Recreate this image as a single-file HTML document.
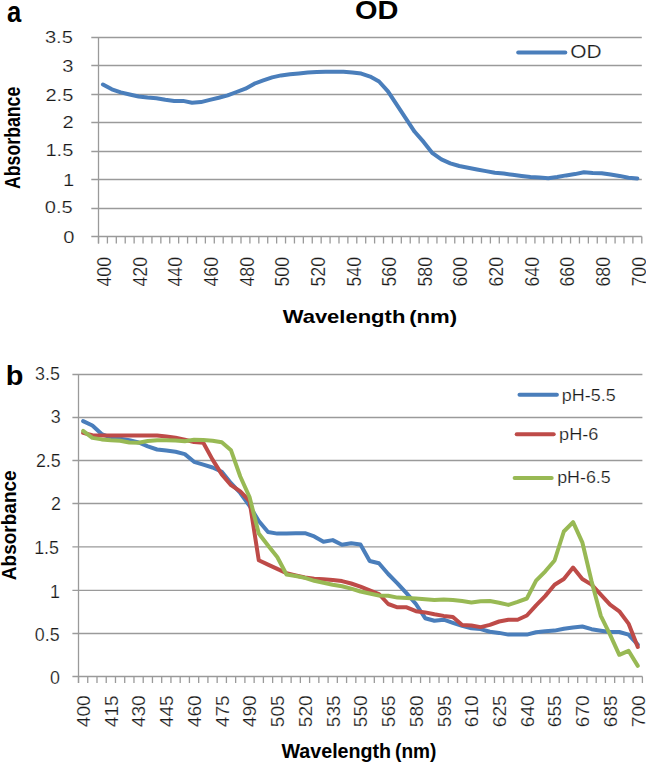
<!DOCTYPE html>
<html><head><meta charset="utf-8"><style>
html,body{margin:0;padding:0;background:#fff;}
svg{display:block;font-family:"Liberation Sans", sans-serif;}
.r{stroke:#fff;stroke-width:0.2px;}
</style></head><body>
<svg width="646" height="764" viewBox="0 0 646 764">
<rect width="646" height="764" fill="#fff"/>
<line x1="91.3" y1="37.5" x2="641.8" y2="37.5" stroke="#9a9a9a" stroke-width="1.3"/>
<line x1="91.3" y1="65.5" x2="641.8" y2="65.5" stroke="#9a9a9a" stroke-width="1.3"/>
<line x1="91.3" y1="94.5" x2="641.8" y2="94.5" stroke="#9a9a9a" stroke-width="1.3"/>
<line x1="91.3" y1="122.5" x2="641.8" y2="122.5" stroke="#9a9a9a" stroke-width="1.3"/>
<line x1="91.3" y1="151.5" x2="641.8" y2="151.5" stroke="#9a9a9a" stroke-width="1.3"/>
<line x1="91.3" y1="179.5" x2="641.8" y2="179.5" stroke="#9a9a9a" stroke-width="1.3"/>
<line x1="91.3" y1="208.5" x2="641.8" y2="208.5" stroke="#9a9a9a" stroke-width="1.3"/>
<line x1="91.3" y1="236.5" x2="641.8" y2="236.5" stroke="#9a9a9a" stroke-width="1.3"/>
<line x1="98.5" y1="37.5" x2="98.5" y2="243.5" stroke="#9a9a9a" stroke-width="1.3"/>
<line x1="98.5" y1="236.5" x2="98.5" y2="243.5" stroke="#9a9a9a" stroke-width="1.3"/>
<line x1="107.41" y1="236.5" x2="107.41" y2="243.5" stroke="#9a9a9a" stroke-width="1.3"/>
<line x1="116.31" y1="236.5" x2="116.31" y2="243.5" stroke="#9a9a9a" stroke-width="1.3"/>
<line x1="125.22" y1="236.5" x2="125.22" y2="243.5" stroke="#9a9a9a" stroke-width="1.3"/>
<line x1="134.13" y1="236.5" x2="134.13" y2="243.5" stroke="#9a9a9a" stroke-width="1.3"/>
<line x1="143.03" y1="236.5" x2="143.03" y2="243.5" stroke="#9a9a9a" stroke-width="1.3"/>
<line x1="151.94" y1="236.5" x2="151.94" y2="243.5" stroke="#9a9a9a" stroke-width="1.3"/>
<line x1="160.85" y1="236.5" x2="160.85" y2="243.5" stroke="#9a9a9a" stroke-width="1.3"/>
<line x1="169.75" y1="236.5" x2="169.75" y2="243.5" stroke="#9a9a9a" stroke-width="1.3"/>
<line x1="178.66" y1="236.5" x2="178.66" y2="243.5" stroke="#9a9a9a" stroke-width="1.3"/>
<line x1="187.57" y1="236.5" x2="187.57" y2="243.5" stroke="#9a9a9a" stroke-width="1.3"/>
<line x1="196.47" y1="236.5" x2="196.47" y2="243.5" stroke="#9a9a9a" stroke-width="1.3"/>
<line x1="205.38" y1="236.5" x2="205.38" y2="243.5" stroke="#9a9a9a" stroke-width="1.3"/>
<line x1="214.29" y1="236.5" x2="214.29" y2="243.5" stroke="#9a9a9a" stroke-width="1.3"/>
<line x1="223.19" y1="236.5" x2="223.19" y2="243.5" stroke="#9a9a9a" stroke-width="1.3"/>
<line x1="232.1" y1="236.5" x2="232.1" y2="243.5" stroke="#9a9a9a" stroke-width="1.3"/>
<line x1="241" y1="236.5" x2="241" y2="243.5" stroke="#9a9a9a" stroke-width="1.3"/>
<line x1="249.91" y1="236.5" x2="249.91" y2="243.5" stroke="#9a9a9a" stroke-width="1.3"/>
<line x1="258.82" y1="236.5" x2="258.82" y2="243.5" stroke="#9a9a9a" stroke-width="1.3"/>
<line x1="267.72" y1="236.5" x2="267.72" y2="243.5" stroke="#9a9a9a" stroke-width="1.3"/>
<line x1="276.63" y1="236.5" x2="276.63" y2="243.5" stroke="#9a9a9a" stroke-width="1.3"/>
<line x1="285.54" y1="236.5" x2="285.54" y2="243.5" stroke="#9a9a9a" stroke-width="1.3"/>
<line x1="294.44" y1="236.5" x2="294.44" y2="243.5" stroke="#9a9a9a" stroke-width="1.3"/>
<line x1="303.35" y1="236.5" x2="303.35" y2="243.5" stroke="#9a9a9a" stroke-width="1.3"/>
<line x1="312.26" y1="236.5" x2="312.26" y2="243.5" stroke="#9a9a9a" stroke-width="1.3"/>
<line x1="321.16" y1="236.5" x2="321.16" y2="243.5" stroke="#9a9a9a" stroke-width="1.3"/>
<line x1="330.07" y1="236.5" x2="330.07" y2="243.5" stroke="#9a9a9a" stroke-width="1.3"/>
<line x1="338.98" y1="236.5" x2="338.98" y2="243.5" stroke="#9a9a9a" stroke-width="1.3"/>
<line x1="347.88" y1="236.5" x2="347.88" y2="243.5" stroke="#9a9a9a" stroke-width="1.3"/>
<line x1="356.79" y1="236.5" x2="356.79" y2="243.5" stroke="#9a9a9a" stroke-width="1.3"/>
<line x1="365.7" y1="236.5" x2="365.7" y2="243.5" stroke="#9a9a9a" stroke-width="1.3"/>
<line x1="374.6" y1="236.5" x2="374.6" y2="243.5" stroke="#9a9a9a" stroke-width="1.3"/>
<line x1="383.51" y1="236.5" x2="383.51" y2="243.5" stroke="#9a9a9a" stroke-width="1.3"/>
<line x1="392.42" y1="236.5" x2="392.42" y2="243.5" stroke="#9a9a9a" stroke-width="1.3"/>
<line x1="401.32" y1="236.5" x2="401.32" y2="243.5" stroke="#9a9a9a" stroke-width="1.3"/>
<line x1="410.23" y1="236.5" x2="410.23" y2="243.5" stroke="#9a9a9a" stroke-width="1.3"/>
<line x1="419.14" y1="236.5" x2="419.14" y2="243.5" stroke="#9a9a9a" stroke-width="1.3"/>
<line x1="428.04" y1="236.5" x2="428.04" y2="243.5" stroke="#9a9a9a" stroke-width="1.3"/>
<line x1="436.95" y1="236.5" x2="436.95" y2="243.5" stroke="#9a9a9a" stroke-width="1.3"/>
<line x1="445.86" y1="236.5" x2="445.86" y2="243.5" stroke="#9a9a9a" stroke-width="1.3"/>
<line x1="454.76" y1="236.5" x2="454.76" y2="243.5" stroke="#9a9a9a" stroke-width="1.3"/>
<line x1="463.67" y1="236.5" x2="463.67" y2="243.5" stroke="#9a9a9a" stroke-width="1.3"/>
<line x1="472.58" y1="236.5" x2="472.58" y2="243.5" stroke="#9a9a9a" stroke-width="1.3"/>
<line x1="481.48" y1="236.5" x2="481.48" y2="243.5" stroke="#9a9a9a" stroke-width="1.3"/>
<line x1="490.39" y1="236.5" x2="490.39" y2="243.5" stroke="#9a9a9a" stroke-width="1.3"/>
<line x1="499.3" y1="236.5" x2="499.3" y2="243.5" stroke="#9a9a9a" stroke-width="1.3"/>
<line x1="508.2" y1="236.5" x2="508.2" y2="243.5" stroke="#9a9a9a" stroke-width="1.3"/>
<line x1="517.11" y1="236.5" x2="517.11" y2="243.5" stroke="#9a9a9a" stroke-width="1.3"/>
<line x1="526.01" y1="236.5" x2="526.01" y2="243.5" stroke="#9a9a9a" stroke-width="1.3"/>
<line x1="534.92" y1="236.5" x2="534.92" y2="243.5" stroke="#9a9a9a" stroke-width="1.3"/>
<line x1="543.83" y1="236.5" x2="543.83" y2="243.5" stroke="#9a9a9a" stroke-width="1.3"/>
<line x1="552.73" y1="236.5" x2="552.73" y2="243.5" stroke="#9a9a9a" stroke-width="1.3"/>
<line x1="561.64" y1="236.5" x2="561.64" y2="243.5" stroke="#9a9a9a" stroke-width="1.3"/>
<line x1="570.55" y1="236.5" x2="570.55" y2="243.5" stroke="#9a9a9a" stroke-width="1.3"/>
<line x1="579.45" y1="236.5" x2="579.45" y2="243.5" stroke="#9a9a9a" stroke-width="1.3"/>
<line x1="588.36" y1="236.5" x2="588.36" y2="243.5" stroke="#9a9a9a" stroke-width="1.3"/>
<line x1="597.27" y1="236.5" x2="597.27" y2="243.5" stroke="#9a9a9a" stroke-width="1.3"/>
<line x1="606.17" y1="236.5" x2="606.17" y2="243.5" stroke="#9a9a9a" stroke-width="1.3"/>
<line x1="615.08" y1="236.5" x2="615.08" y2="243.5" stroke="#9a9a9a" stroke-width="1.3"/>
<line x1="623.99" y1="236.5" x2="623.99" y2="243.5" stroke="#9a9a9a" stroke-width="1.3"/>
<line x1="632.89" y1="236.5" x2="632.89" y2="243.5" stroke="#9a9a9a" stroke-width="1.3"/>
<line x1="641.8" y1="236.5" x2="641.8" y2="243.5" stroke="#9a9a9a" stroke-width="1.3"/>
<polyline points="102.95,84.5 111.86,89.3 120.77,92.4 129.67,94.5 138.58,96.5 147.49,97.6 156.39,98.2 165.3,99.8 174.21,100.9 183.11,100.9 192.02,102.8 200.93,102.1 209.83,99.85 218.74,97.8 227.65,95.4 236.55,92 245.46,88.7 254.36,83.7 263.27,80.4 272.18,77.4 281.08,75.4 289.99,74.3 298.9,73.4 307.8,72.5 316.71,72.1 325.62,71.8 334.52,71.8 343.43,71.8 352.34,72.5 361.24,73.6 370.15,76.6 379.06,81.5 387.96,91.4 396.87,104.9 405.78,118.4 414.68,131.8 423.59,141.9 432.5,153.2 441.4,159.4 450.31,163.3 459.22,166 468.12,167.7 477.03,169.5 485.94,171.1 494.84,172.7 503.75,173.6 512.65,174.75 521.56,175.9 530.47,177 539.37,177.4 548.28,178.3 557.19,177 566.09,175.4 575,174.1 583.91,172.3 592.81,173 601.72,173.2 610.63,174.5 619.53,175.9 628.44,177.7 637.35,178.6" fill="none" stroke="#4a7ebb" stroke-width="4.0" stroke-linejoin="round" stroke-linecap="round"/>
<line x1="518.2" y1="52.4" x2="565.3" y2="52.4" stroke="#4a7ebb" stroke-width="4.0" stroke-linecap="round"/>
<text transform="translate(570.16,58.1) scale(1.1642,1)" font-size="17.97" font-weight="normal" fill="#1a1a1a" class="r">OD</text>
<text transform="translate(354.94,18.6) scale(1.1478,1)" font-size="25.22" font-weight="bold" fill="#000">OD</text>
<text transform="translate(6.93,22) scale(0.8752,1)" font-size="29.26" font-weight="bold" fill="#000">a</text>
<text transform="translate(44.89,42.88) scale(1.1825,1)" font-size="17.04" fill="#1a1a1a" class="r">3.5</text>
<text transform="translate(62.32,71.98) scale(1.1825,1)" font-size="17.04" fill="#1a1a1a" class="r">3</text>
<text transform="translate(45.39,101.38) scale(1.1825,1)" font-size="17.04" fill="#1a1a1a" class="r">2.5</text>
<text transform="translate(62.42,128.48) scale(1.1825,1)" font-size="17.04" fill="#1a1a1a" class="r">2</text>
<text transform="translate(45.39,156.08) scale(1.1825,1)" font-size="17.04" fill="#1a1a1a" class="r">1.5</text>
<text transform="translate(63.02,185.58) scale(1.1825,1)" font-size="17.04" fill="#1a1a1a" class="r">1</text>
<text transform="translate(44.69,213.08) scale(1.1825,1)" font-size="17.04" fill="#1a1a1a" class="r">0.5</text>
<text transform="translate(63.22,242.68) scale(1.1825,1)" font-size="17.04" fill="#1a1a1a" class="r">0</text>
<text transform="translate(111.2,257.03) rotate(-90) scale(0.8906,1)" font-size="19.86" text-anchor="end" fill="#1a1a1a" class="r">400</text>
<text transform="translate(146.83,257.03) rotate(-90) scale(0.8906,1)" font-size="19.86" text-anchor="end" fill="#1a1a1a" class="r">420</text>
<text transform="translate(182.45,257.03) rotate(-90) scale(0.8906,1)" font-size="19.86" text-anchor="end" fill="#1a1a1a" class="r">440</text>
<text transform="translate(218.08,257.03) rotate(-90) scale(0.8906,1)" font-size="19.86" text-anchor="end" fill="#1a1a1a" class="r">460</text>
<text transform="translate(253.71,257.03) rotate(-90) scale(0.8906,1)" font-size="19.86" text-anchor="end" fill="#1a1a1a" class="r">480</text>
<text transform="translate(289.33,257.03) rotate(-90) scale(0.8906,1)" font-size="19.86" text-anchor="end" fill="#1a1a1a" class="r">500</text>
<text transform="translate(324.96,257.03) rotate(-90) scale(0.8906,1)" font-size="19.86" text-anchor="end" fill="#1a1a1a" class="r">520</text>
<text transform="translate(360.59,257.03) rotate(-90) scale(0.8906,1)" font-size="19.86" text-anchor="end" fill="#1a1a1a" class="r">540</text>
<text transform="translate(396.21,257.03) rotate(-90) scale(0.8906,1)" font-size="19.86" text-anchor="end" fill="#1a1a1a" class="r">560</text>
<text transform="translate(431.84,257.03) rotate(-90) scale(0.8906,1)" font-size="19.86" text-anchor="end" fill="#1a1a1a" class="r">580</text>
<text transform="translate(467.46,257.03) rotate(-90) scale(0.8906,1)" font-size="19.86" text-anchor="end" fill="#1a1a1a" class="r">600</text>
<text transform="translate(503.09,257.03) rotate(-90) scale(0.8906,1)" font-size="19.86" text-anchor="end" fill="#1a1a1a" class="r">620</text>
<text transform="translate(538.72,257.03) rotate(-90) scale(0.8906,1)" font-size="19.86" text-anchor="end" fill="#1a1a1a" class="r">640</text>
<text transform="translate(574.34,257.03) rotate(-90) scale(0.8906,1)" font-size="19.86" text-anchor="end" fill="#1a1a1a" class="r">660</text>
<text transform="translate(609.97,257.03) rotate(-90) scale(0.8906,1)" font-size="19.86" text-anchor="end" fill="#1a1a1a" class="r">680</text>
<text transform="translate(645.59,257.03) rotate(-90) scale(0.8906,1)" font-size="19.86" text-anchor="end" fill="#1a1a1a" class="r">700</text>
<text transform="translate(282.7,322.9) scale(1.1774,1)" font-size="18.7" font-weight="bold" fill="#000">Wavelength</text>
<text transform="translate(409.19,322.9) scale(1.1860,1)" font-size="18.7" font-weight="bold" fill="#000">(nm)</text>
<text transform="translate(20.4,189.04) rotate(-90) scale(0.7735,1)" font-size="22.9" font-weight="bold" fill="#000">Absorbance</text>
<line x1="72.4" y1="374.5" x2="642.4" y2="374.5" stroke="#9a9a9a" stroke-width="1.3"/>
<line x1="72.4" y1="417.5" x2="642.4" y2="417.5" stroke="#9a9a9a" stroke-width="1.3"/>
<line x1="72.4" y1="460.5" x2="642.4" y2="460.5" stroke="#9a9a9a" stroke-width="1.3"/>
<line x1="72.4" y1="503.5" x2="642.4" y2="503.5" stroke="#9a9a9a" stroke-width="1.3"/>
<line x1="72.4" y1="546.8" x2="642.4" y2="546.8" stroke="#9a9a9a" stroke-width="1.3"/>
<line x1="72.4" y1="590.3" x2="642.4" y2="590.3" stroke="#9a9a9a" stroke-width="1.3"/>
<line x1="72.4" y1="633.5" x2="642.4" y2="633.5" stroke="#9a9a9a" stroke-width="1.3"/>
<line x1="72.4" y1="676.5" x2="642.4" y2="676.5" stroke="#9a9a9a" stroke-width="1.3"/>
<line x1="78.5" y1="374.5" x2="78.5" y2="683" stroke="#9a9a9a" stroke-width="1.3"/>
<line x1="78.5" y1="676.5" x2="78.5" y2="683" stroke="#9a9a9a" stroke-width="1.3"/>
<line x1="87.74" y1="676.5" x2="87.74" y2="683" stroke="#9a9a9a" stroke-width="1.3"/>
<line x1="96.99" y1="676.5" x2="96.99" y2="683" stroke="#9a9a9a" stroke-width="1.3"/>
<line x1="106.23" y1="676.5" x2="106.23" y2="683" stroke="#9a9a9a" stroke-width="1.3"/>
<line x1="115.48" y1="676.5" x2="115.48" y2="683" stroke="#9a9a9a" stroke-width="1.3"/>
<line x1="124.72" y1="676.5" x2="124.72" y2="683" stroke="#9a9a9a" stroke-width="1.3"/>
<line x1="133.97" y1="676.5" x2="133.97" y2="683" stroke="#9a9a9a" stroke-width="1.3"/>
<line x1="143.21" y1="676.5" x2="143.21" y2="683" stroke="#9a9a9a" stroke-width="1.3"/>
<line x1="152.45" y1="676.5" x2="152.45" y2="683" stroke="#9a9a9a" stroke-width="1.3"/>
<line x1="161.7" y1="676.5" x2="161.7" y2="683" stroke="#9a9a9a" stroke-width="1.3"/>
<line x1="170.94" y1="676.5" x2="170.94" y2="683" stroke="#9a9a9a" stroke-width="1.3"/>
<line x1="180.19" y1="676.5" x2="180.19" y2="683" stroke="#9a9a9a" stroke-width="1.3"/>
<line x1="189.43" y1="676.5" x2="189.43" y2="683" stroke="#9a9a9a" stroke-width="1.3"/>
<line x1="198.68" y1="676.5" x2="198.68" y2="683" stroke="#9a9a9a" stroke-width="1.3"/>
<line x1="207.92" y1="676.5" x2="207.92" y2="683" stroke="#9a9a9a" stroke-width="1.3"/>
<line x1="217.16" y1="676.5" x2="217.16" y2="683" stroke="#9a9a9a" stroke-width="1.3"/>
<line x1="226.41" y1="676.5" x2="226.41" y2="683" stroke="#9a9a9a" stroke-width="1.3"/>
<line x1="235.65" y1="676.5" x2="235.65" y2="683" stroke="#9a9a9a" stroke-width="1.3"/>
<line x1="244.9" y1="676.5" x2="244.9" y2="683" stroke="#9a9a9a" stroke-width="1.3"/>
<line x1="254.14" y1="676.5" x2="254.14" y2="683" stroke="#9a9a9a" stroke-width="1.3"/>
<line x1="263.39" y1="676.5" x2="263.39" y2="683" stroke="#9a9a9a" stroke-width="1.3"/>
<line x1="272.63" y1="676.5" x2="272.63" y2="683" stroke="#9a9a9a" stroke-width="1.3"/>
<line x1="281.87" y1="676.5" x2="281.87" y2="683" stroke="#9a9a9a" stroke-width="1.3"/>
<line x1="291.12" y1="676.5" x2="291.12" y2="683" stroke="#9a9a9a" stroke-width="1.3"/>
<line x1="300.36" y1="676.5" x2="300.36" y2="683" stroke="#9a9a9a" stroke-width="1.3"/>
<line x1="309.61" y1="676.5" x2="309.61" y2="683" stroke="#9a9a9a" stroke-width="1.3"/>
<line x1="318.85" y1="676.5" x2="318.85" y2="683" stroke="#9a9a9a" stroke-width="1.3"/>
<line x1="328.1" y1="676.5" x2="328.1" y2="683" stroke="#9a9a9a" stroke-width="1.3"/>
<line x1="337.34" y1="676.5" x2="337.34" y2="683" stroke="#9a9a9a" stroke-width="1.3"/>
<line x1="346.58" y1="676.5" x2="346.58" y2="683" stroke="#9a9a9a" stroke-width="1.3"/>
<line x1="355.83" y1="676.5" x2="355.83" y2="683" stroke="#9a9a9a" stroke-width="1.3"/>
<line x1="365.07" y1="676.5" x2="365.07" y2="683" stroke="#9a9a9a" stroke-width="1.3"/>
<line x1="374.32" y1="676.5" x2="374.32" y2="683" stroke="#9a9a9a" stroke-width="1.3"/>
<line x1="383.56" y1="676.5" x2="383.56" y2="683" stroke="#9a9a9a" stroke-width="1.3"/>
<line x1="392.8" y1="676.5" x2="392.8" y2="683" stroke="#9a9a9a" stroke-width="1.3"/>
<line x1="402.05" y1="676.5" x2="402.05" y2="683" stroke="#9a9a9a" stroke-width="1.3"/>
<line x1="411.29" y1="676.5" x2="411.29" y2="683" stroke="#9a9a9a" stroke-width="1.3"/>
<line x1="420.54" y1="676.5" x2="420.54" y2="683" stroke="#9a9a9a" stroke-width="1.3"/>
<line x1="429.78" y1="676.5" x2="429.78" y2="683" stroke="#9a9a9a" stroke-width="1.3"/>
<line x1="439.03" y1="676.5" x2="439.03" y2="683" stroke="#9a9a9a" stroke-width="1.3"/>
<line x1="448.27" y1="676.5" x2="448.27" y2="683" stroke="#9a9a9a" stroke-width="1.3"/>
<line x1="457.51" y1="676.5" x2="457.51" y2="683" stroke="#9a9a9a" stroke-width="1.3"/>
<line x1="466.76" y1="676.5" x2="466.76" y2="683" stroke="#9a9a9a" stroke-width="1.3"/>
<line x1="476" y1="676.5" x2="476" y2="683" stroke="#9a9a9a" stroke-width="1.3"/>
<line x1="485.25" y1="676.5" x2="485.25" y2="683" stroke="#9a9a9a" stroke-width="1.3"/>
<line x1="494.49" y1="676.5" x2="494.49" y2="683" stroke="#9a9a9a" stroke-width="1.3"/>
<line x1="503.74" y1="676.5" x2="503.74" y2="683" stroke="#9a9a9a" stroke-width="1.3"/>
<line x1="512.98" y1="676.5" x2="512.98" y2="683" stroke="#9a9a9a" stroke-width="1.3"/>
<line x1="522.22" y1="676.5" x2="522.22" y2="683" stroke="#9a9a9a" stroke-width="1.3"/>
<line x1="531.47" y1="676.5" x2="531.47" y2="683" stroke="#9a9a9a" stroke-width="1.3"/>
<line x1="540.71" y1="676.5" x2="540.71" y2="683" stroke="#9a9a9a" stroke-width="1.3"/>
<line x1="549.96" y1="676.5" x2="549.96" y2="683" stroke="#9a9a9a" stroke-width="1.3"/>
<line x1="559.2" y1="676.5" x2="559.2" y2="683" stroke="#9a9a9a" stroke-width="1.3"/>
<line x1="568.45" y1="676.5" x2="568.45" y2="683" stroke="#9a9a9a" stroke-width="1.3"/>
<line x1="577.69" y1="676.5" x2="577.69" y2="683" stroke="#9a9a9a" stroke-width="1.3"/>
<line x1="586.93" y1="676.5" x2="586.93" y2="683" stroke="#9a9a9a" stroke-width="1.3"/>
<line x1="596.18" y1="676.5" x2="596.18" y2="683" stroke="#9a9a9a" stroke-width="1.3"/>
<line x1="605.42" y1="676.5" x2="605.42" y2="683" stroke="#9a9a9a" stroke-width="1.3"/>
<line x1="614.67" y1="676.5" x2="614.67" y2="683" stroke="#9a9a9a" stroke-width="1.3"/>
<line x1="623.91" y1="676.5" x2="623.91" y2="683" stroke="#9a9a9a" stroke-width="1.3"/>
<line x1="633.16" y1="676.5" x2="633.16" y2="683" stroke="#9a9a9a" stroke-width="1.3"/>
<line x1="642.4" y1="676.5" x2="642.4" y2="683" stroke="#9a9a9a" stroke-width="1.3"/>
<polyline points="83.12,421.15 92.37,425.5 101.61,434 110.85,437.6 120.1,438.6 129.34,440.2 138.59,442.5 147.83,446.4 157.08,449.5 166.32,450.6 175.56,451.7 184.81,454.1 194.05,461.8 203.3,464.7 212.54,467.5 221.79,471.8 231.03,483.2 240.27,493 249.52,505.8 258.76,521 268.01,532 277.25,533.6 286.5,533.5 295.74,533.2 304.98,533.2 314.23,536.4 323.47,541.7 332.72,540.1 341.96,544.8 351.21,543.2 360.45,544.5 369.69,561 378.94,563.3 388.18,574 397.43,583.3 406.67,593.4 415.92,604 425.16,618.2 434.4,620.8 443.65,619.7 452.89,622.8 462.14,625.9 471.38,628.2 480.63,629.1 489.87,631.7 499.11,632.9 508.36,634.6 517.6,634.6 526.85,634.6 536.09,632.2 545.34,631.2 554.58,630.6 563.82,628.7 573.07,627.4 582.31,626.5 591.56,629.2 600.8,630.7 610.05,632 619.29,632 628.53,634.7 637.78,644.7" fill="none" stroke="#4a7ebb" stroke-width="4.0" stroke-linejoin="round" stroke-linecap="round"/>
<polyline points="83.12,432.9 92.37,435.2 101.61,435.5 110.85,435.5 120.1,435.5 129.34,435.5 138.59,435.5 147.83,435.5 157.08,435.5 166.32,436.6 175.56,437.8 184.81,439.7 194.05,442 203.3,442.8 212.54,459.6 221.79,474.4 231.03,485.2 240.27,491.4 249.52,501 258.76,560.2 268.01,564.6 277.25,568.9 286.5,573.3 295.74,575.5 304.98,577.5 314.23,578.7 323.47,579.3 332.72,580.1 341.96,581.1 351.21,583.5 360.45,586.6 369.69,590.4 378.94,594 388.18,604 397.43,607.3 406.67,607.3 415.92,611.2 425.16,612.4 434.4,614.3 443.65,615.9 452.89,617.1 462.14,625.1 471.38,625.5 480.63,627.1 489.87,624.9 499.11,621.5 508.36,619.7 517.6,619.7 526.85,615.5 536.09,605.3 545.34,595.9 554.58,584.8 563.82,579 573.07,567.5 582.31,579 591.56,584.6 600.8,594.6 610.05,604.7 619.29,611.3 628.53,623.6 637.78,647" fill="none" stroke="#be4b48" stroke-width="4.0" stroke-linejoin="round" stroke-linecap="round"/>
<polyline points="83.12,430.9 92.37,437.9 101.61,439.4 110.85,440.2 120.1,440.7 129.34,442.5 138.59,442.8 147.83,441 157.08,440.2 166.32,440.2 175.56,440.4 184.81,441.3 194.05,439.7 203.3,439.9 212.54,440.7 221.79,442.3 231.03,450.3 240.27,476.5 249.52,497 258.76,533.5 268.01,545.5 277.25,557 286.5,574.5 295.74,576 304.98,577.9 314.23,580.8 323.47,582.7 332.72,584.7 341.96,586.3 351.21,588.6 360.45,591.5 369.69,593.5 378.94,595.5 388.18,595.8 397.43,597.6 406.67,598 415.92,598.5 425.16,599.3 434.4,600 443.65,599.6 452.89,600 462.14,601.1 471.38,602.5 480.63,601.3 489.87,601 499.11,602.7 508.36,604.9 517.6,601.9 526.85,598.5 536.09,580.6 545.34,571.3 554.58,560.5 563.82,531.5 573.07,522.2 582.31,542.3 591.56,581.3 600.8,615.8 610.05,634.7 619.29,654.8 628.53,650.8 637.78,665.9" fill="none" stroke="#98b954" stroke-width="4.0" stroke-linejoin="round" stroke-linecap="round"/>
<line x1="519.5" y1="394.7" x2="556.9" y2="394.7" stroke="#4a7ebb" stroke-width="4.0" stroke-linecap="round"/>
<line x1="516.7" y1="434.3" x2="553.7" y2="434.3" stroke="#be4b48" stroke-width="4.0" stroke-linecap="round"/>
<line x1="514.6" y1="478" x2="551.7" y2="478" stroke="#98b954" stroke-width="4.0" stroke-linecap="round"/>
<text transform="translate(561.83,400.5) scale(1.0756,1)" font-size="16.67" font-weight="normal" fill="#1a1a1a" class="r">pH-5.5</text>
<text transform="translate(559.12,440.3) scale(1.0986,1)" font-size="16.52" font-weight="normal" fill="#1a1a1a" class="r">pH-6</text>
<text transform="translate(557.14,483.2) scale(1.0623,1)" font-size="16.81" font-weight="normal" fill="#1a1a1a" class="r">pH-6.5</text>
<text transform="translate(5.82,384.6) scale(1.0325,1)" font-size="28" font-weight="bold" fill="#000">b</text>
<text transform="translate(34.99,379.91) scale(0.9536,1)" font-size="18.73" fill="#1a1a1a" class="r">3.5</text>
<text transform="translate(50.79,422.96) scale(0.9536,1)" font-size="18.73" fill="#1a1a1a" class="r">3</text>
<text transform="translate(35.89,466.56) scale(0.9536,1)" font-size="18.73" fill="#1a1a1a" class="r">2.5</text>
<text transform="translate(50.98,510.16) scale(0.9536,1)" font-size="18.73" fill="#1a1a1a" class="r">2</text>
<text transform="translate(34.19,553.76) scale(0.9536,1)" font-size="18.73" fill="#1a1a1a" class="r">1.5</text>
<text transform="translate(49.88,597.66) scale(0.9536,1)" font-size="18.73" fill="#1a1a1a" class="r">1</text>
<text transform="translate(34.79,640.66) scale(0.9536,1)" font-size="18.73" fill="#1a1a1a" class="r">0.5</text>
<text transform="translate(50.1,684.06) scale(0.9536,1)" font-size="18.73" fill="#1a1a1a" class="r">0</text>
<text transform="translate(90.03,695.27) rotate(-90) scale(1.0986,1)" font-size="17.46" text-anchor="end" fill="#1a1a1a" class="r">400</text>
<text transform="translate(117.76,695.27) rotate(-90) scale(1.0986,1)" font-size="17.46" text-anchor="end" fill="#1a1a1a" class="r">415</text>
<text transform="translate(145.49,695.27) rotate(-90) scale(1.0986,1)" font-size="17.46" text-anchor="end" fill="#1a1a1a" class="r">430</text>
<text transform="translate(173.22,695.27) rotate(-90) scale(1.0986,1)" font-size="17.46" text-anchor="end" fill="#1a1a1a" class="r">445</text>
<text transform="translate(200.96,695.27) rotate(-90) scale(1.0986,1)" font-size="17.46" text-anchor="end" fill="#1a1a1a" class="r">460</text>
<text transform="translate(228.69,695.27) rotate(-90) scale(1.0986,1)" font-size="17.46" text-anchor="end" fill="#1a1a1a" class="r">475</text>
<text transform="translate(256.42,695.27) rotate(-90) scale(1.0986,1)" font-size="17.46" text-anchor="end" fill="#1a1a1a" class="r">490</text>
<text transform="translate(284.15,695.27) rotate(-90) scale(1.0986,1)" font-size="17.46" text-anchor="end" fill="#1a1a1a" class="r">505</text>
<text transform="translate(311.89,695.27) rotate(-90) scale(1.0986,1)" font-size="17.46" text-anchor="end" fill="#1a1a1a" class="r">520</text>
<text transform="translate(339.62,695.27) rotate(-90) scale(1.0986,1)" font-size="17.46" text-anchor="end" fill="#1a1a1a" class="r">535</text>
<text transform="translate(367.35,695.27) rotate(-90) scale(1.0986,1)" font-size="17.46" text-anchor="end" fill="#1a1a1a" class="r">550</text>
<text transform="translate(395.09,695.27) rotate(-90) scale(1.0986,1)" font-size="17.46" text-anchor="end" fill="#1a1a1a" class="r">565</text>
<text transform="translate(422.82,695.27) rotate(-90) scale(1.0986,1)" font-size="17.46" text-anchor="end" fill="#1a1a1a" class="r">580</text>
<text transform="translate(450.55,695.27) rotate(-90) scale(1.0986,1)" font-size="17.46" text-anchor="end" fill="#1a1a1a" class="r">595</text>
<text transform="translate(478.28,695.27) rotate(-90) scale(1.0986,1)" font-size="17.46" text-anchor="end" fill="#1a1a1a" class="r">610</text>
<text transform="translate(506.02,695.27) rotate(-90) scale(1.0986,1)" font-size="17.46" text-anchor="end" fill="#1a1a1a" class="r">625</text>
<text transform="translate(533.75,695.27) rotate(-90) scale(1.0986,1)" font-size="17.46" text-anchor="end" fill="#1a1a1a" class="r">640</text>
<text transform="translate(561.48,695.27) rotate(-90) scale(1.0986,1)" font-size="17.46" text-anchor="end" fill="#1a1a1a" class="r">655</text>
<text transform="translate(589.22,695.27) rotate(-90) scale(1.0986,1)" font-size="17.46" text-anchor="end" fill="#1a1a1a" class="r">670</text>
<text transform="translate(616.95,695.27) rotate(-90) scale(1.0986,1)" font-size="17.46" text-anchor="end" fill="#1a1a1a" class="r">685</text>
<text transform="translate(644.68,695.27) rotate(-90) scale(1.0986,1)" font-size="17.46" text-anchor="end" fill="#1a1a1a" class="r">700</text>
<text transform="translate(281.5,758.3) scale(1.0055,1)" font-size="19.57" font-weight="bold" fill="#000">Wavelength</text>
<text transform="translate(395.05,758.3) scale(0.9753,1)" font-size="19.57" font-weight="bold" fill="#000">(nm)</text>
<text transform="translate(15.8,580.18) rotate(-90) scale(0.9437,1)" font-size="20.14" font-weight="bold" fill="#000">Absorbance</text>
</svg>
</body></html>
